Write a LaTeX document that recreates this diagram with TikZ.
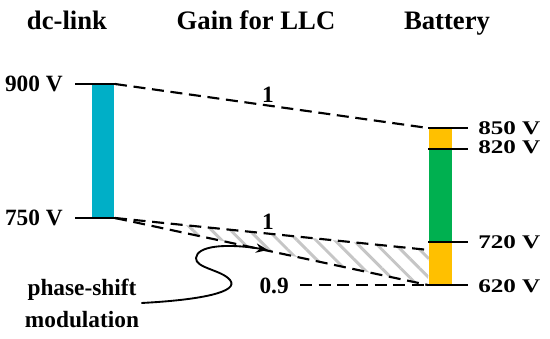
\documentclass[tikz,border=0pt]{standalone}
\usepackage{fontspec}
\setmainfont{Liberation Serif}[BoldFont={Liberation Serif Bold}]
\newfontfamily\widefont{Liberation Serif Bold}[FakeStretch=1.3]
\usetikzlibrary{arrows.meta, positioning, calc, patterns.meta}

\definecolor{dccyan}{RGB}{0,175,199}
\definecolor{batorange}{RGB}{255,192,0}
\definecolor{batgreen}{RGB}{0,176,80}

\begin{document}
\begin{tikzpicture}[
    x=0.75pt, y=-0.75pt,
    >={Stealth[length=9pt,width=7pt]},
    title/.style={font=\fontsize{20}{24}\selectfont\bfseries, inner sep=0pt, anchor=base},
    vlabel/.style={font=\fontsize{17.5}{21}\selectfont\bfseries, inner sep=0pt},
    blabel/.style={font=\fontsize{14.5}{17}\widefont, inner sep=0pt, anchor=west},
    tick/.style={line width=1.5pt},
    gainline/.style={line width=1.6pt, dash pattern=on 9pt off 5pt},
    hatch/.style={pattern={Lines[angle=-45,distance=10pt,line width=2.2pt]}, pattern color=gray!45}
]
\useasboundingbox (0,0) rectangle (550,339);

% Column titles
\node[title] (tdc) at (67,29) {dc-link};
\node[title] (tgain) at (256,29) {Gain for LLC};
\node[title] (tbat) at (447,29) {Battery};

% Bars
\fill[dccyan] (92,84) rectangle (114,218);
\fill[batorange] (429,128) rectangle (452,149);
\fill[batgreen] (429,149) rectangle (452,242);
\fill[batorange] (429,242) rectangle (452,285);

% Voltage levels
\coordinate (dcTop) at (115,84);
\coordinate (dcBot) at (115,218);
\foreach \name/\y/\txt in {dcTop/84/900 V, dcBot/218/750 V} {
    \draw[tick] (75,\y) -- (\name);
    \node[vlabel, anchor=east] (l\name) at (63,\y) {\txt};
}
\foreach \v/\y/\ly in {850/128/128, 820/149/147, 720/242/242, 620/285/286} {
    \coordinate (b\v) at (428,\y);
    \draw[tick] (b\v) -- (468,\y);
    \node[blabel] (lb\v) at (478,\ly) {\v~V};
}
\coordinate (gOne) at (429,250);

% Hatched range
\fill[hatch] ($(dcBot)!0.2!(gOne)$) -- (gOne) -- (b620) -- ($(dcBot)!0.2!(b620)$) -- cycle;

% Gain lines
\draw[gainline] (dcTop) -- (b850);
\draw[gainline] (dcBot) -- (gOne);
\draw[gainline] (dcBot) -- (b620);
\node[vlabel] (gainA) at (268,95) {1};
\node[vlabel] (gainB) at (268,222) {1};
\node[vlabel, anchor=east] (gainC) at (289,286) {0.9};
\draw[gainline] (300,285) -- (b620);

% Phase-shift note
\node[vlabel, align=center, font=\fontsize{17.5}{24}\selectfont\bfseries, anchor=base] (ps) at (82,327) {phase-shift\\modulation};
\coordinate (psStart) at ($(ps.base east)+(2,-24)$);
\coordinate (psTip) at (268,250);
\draw[->, line width=1.4pt] (psStart) .. controls (200,300) and (240,292) .. (230,280) .. controls (222,270) and (195,268) .. (196,258) .. controls (197,246) and (225,243) .. (psTip);

\end{tikzpicture}
\end{document}
